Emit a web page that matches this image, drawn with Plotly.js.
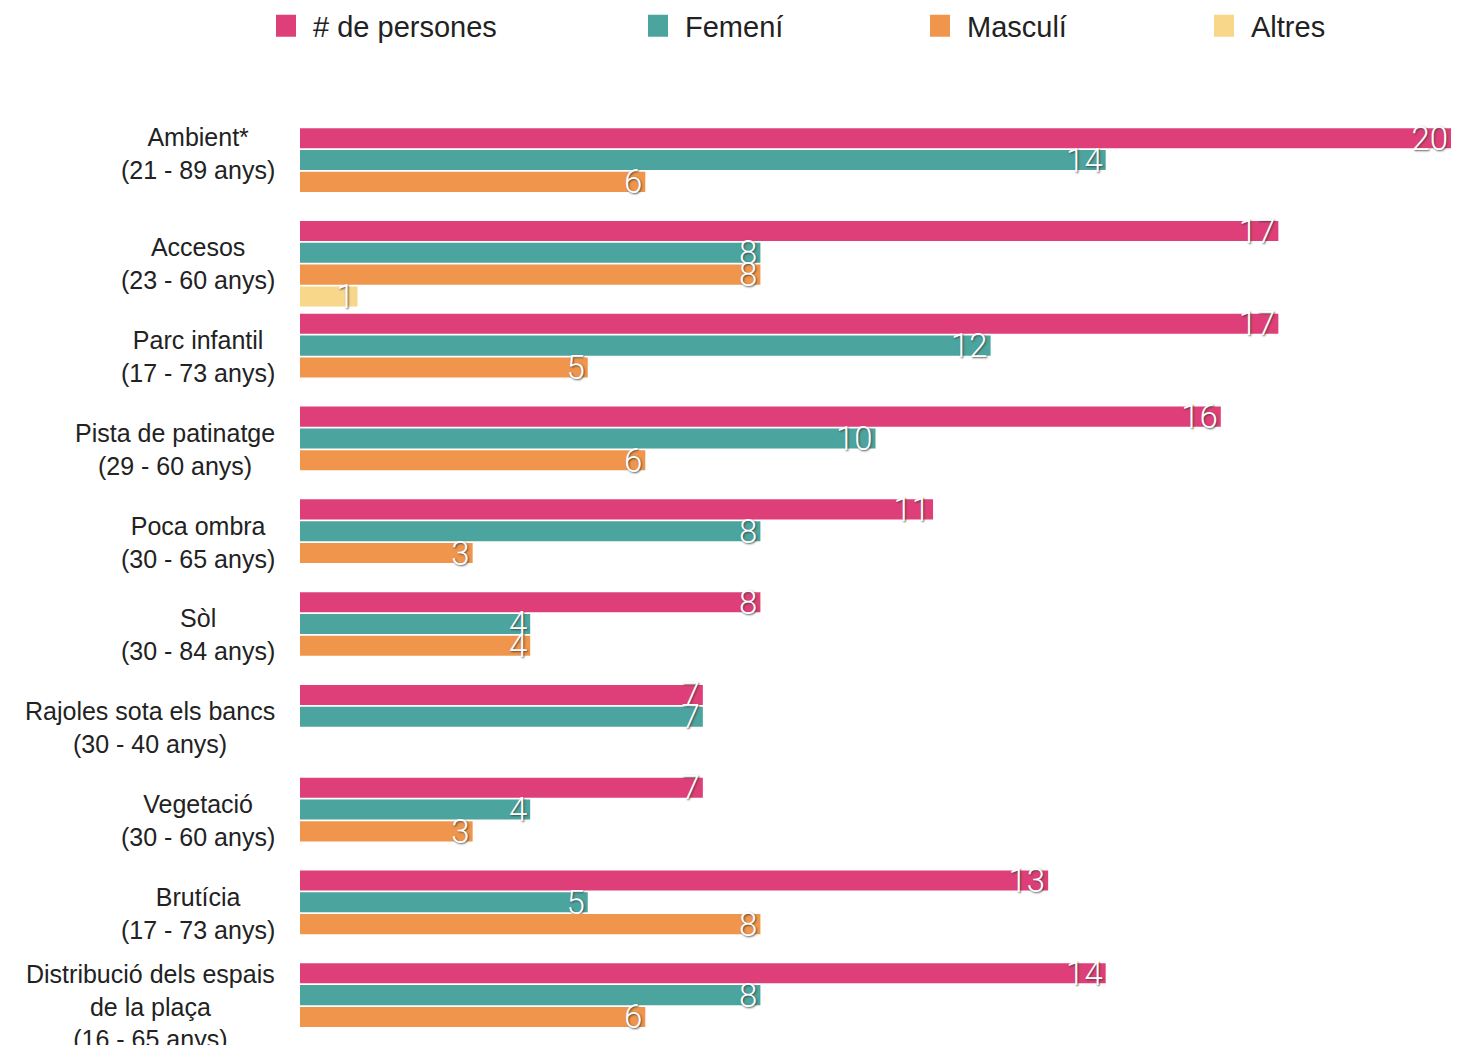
<!DOCTYPE html>
<html>
<head>
<meta charset="utf-8">
<script src="https://cdn.plot.ly/plotly-3.0.1.min.js"></script>
<style>
  html, body { margin: 0; padding: 0; background: #fff; }
  #chart { width: 1469px; height: 1045px; }
</style>
</head>
<body>
<div id="chart"></div>
<script>
// ---- data ----
const categories = [
  "Ambient*<br>(21 - 89 anys)",
  "Accesos<br>(23 - 60 anys)",
  "Parc infantil<br>(17 - 73 anys)",
  "Pista de patinatge<br>(29 - 60 anys)",
  "Poca ombra<br>(30 - 65 anys)",
  "Sòl<br>(30 - 84 anys)",
  "Rajoles sota els bancs<br>(30 - 40 anys)",
  "Vegetació<br>(30 - 60 anys)",
  "Brutícia<br>(17 - 73 anys)",
  "Distribució dels espais<br>de la plaça<br>(16 - 65 anys)"
];
const seriesNames = ["# de persones", "Femení", "Masculí", "Altres"];
const persones = [20, 17, 17, 16, 11, 8, 7, 7, 13, 14];
const femeni   = [14, 8, 12, 10, 8, 4, 7, 4, 5, 8];
const masculi  = [6, 8, 5, 6, 3, 4, null, 3, 8, 6];
const altres   = [null, 1, null, null, null, null, null, null, null, null];
const colors = ["#DF3F78", "#4BA49E", "#EF964C", "#F8D68A"];

// ---- traces ----
const seriesValues = [persones, femeni, masculi, altres];
const legendIds = ["legend", "legend2", "legend3", "legend4"];
const traces = seriesValues.map((vals, i) => ({
  type: "bar",
  orientation: "h",
  name: seriesNames[i],
  y: categories,
  x: vals,
  marker: { color: colors[i], line: { width: 0 } },
  text: vals.map(v => (v == null ? "" : String(v))),
  textposition: "inside",
  insidetextanchor: "end",
  constraintext: "none",
  textangle: 0,
  textfont: {
    family: "Roboto, 'Liberation Sans', sans-serif",
    size: 33,
    weight: 300,
    color: "#ffffff",
    shadow: "1px 1px 2px rgba(60,60,60,0.85)"
  },
  hoverinfo: "skip",
  legend: legendIds[i]
}));

// ---- category labels (centred multi-line text, right of the bars) ----
const annotations = categories.map((c, i) => ({
  xref: "paper", yref: "y",
  x: 0, y: c,
  xanchor: "right", yanchor: "middle",
  xshift: -23,
  yshift: i === 0 ? 17 : 0,
  align: "center",
  text: c,
  showarrow: false,
  font: { family: "'Liberation Sans', Arial, sans-serif", size: 25, color: "#222" }
}));

const legendCenters = [286, 658, 940, 1224];
const W = 1469, H = 1045;
const legendBase = {
  orientation: "h",
  xref: "container", yref: "container",
  yanchor: "middle",
  y: 1 - 26 / H,
  xanchor: "left",
  bgcolor: "rgba(0,0,0,0)",
  borderwidth: 0,
  itemwidth: 44,
  itemclick: false,
  itemdoubleclick: false,
  font: { family: "'Liberation Sans', Arial, sans-serif", size: 29, color: "#222" }
};
const layout = {
  width: W, height: H,
  margin: { l: 300, r: 18, t: 110, b: 0, pad: 0 },
  paper_bgcolor: "#fff",
  plot_bgcolor: "#fff",
  barmode: "group",
  bargap: 0.06,
  bargroupgap: 0.08,
  showlegend: true,
  xaxis: { visible: false, range: [0, 20], fixedrange: true },
  yaxis: {
    type: "category",
    categoryorder: "array",
    categoryarray: categories,
    range: [9.42, -0.657],
    showticklabels: false,
    showgrid: false, zeroline: false, showline: false, ticks: "",
    fixedrange: true
  },
  annotations: annotations
};
legendIds.forEach((id, i) => {
  layout[id] = Object.assign({}, legendBase, { x: (legendCenters[i] - 27) / W });
});

Plotly.newPlot("chart", traces, layout, { staticPlot: true, displayModeBar: false }).then(() => {
  // enlarge legend swatches to match the reference squares
  document.querySelectorAll(".legendpoints path").forEach(p => {
    p.setAttribute("d", "M10,11H-10V-11H10Z");
  });
});
</script>
</body>
</html>
